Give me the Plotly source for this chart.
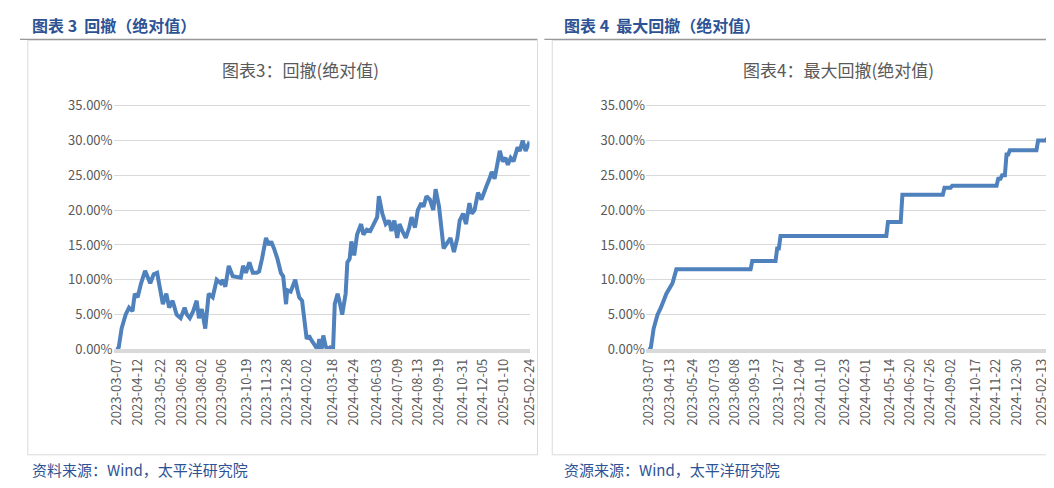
import plotly.graph_objects as go

# 回撤（绝对值）, 单位 %
dd_dates = ["2023-03-07", "2023-03-10", "2023-03-15", "2023-03-22", "2023-03-28", "2023-04-03", "2023-04-07",
            "2023-04-12", "2023-04-18", "2023-04-25", "2023-05-04", "2023-05-10", "2023-05-16", "2023-05-22",
            "2023-05-26", "2023-06-01", "2023-06-06", "2023-06-12", "2023-06-19", "2023-06-26", "2023-07-03",
            "2023-07-07", "2023-07-12", "2023-07-18", "2023-07-24", "2023-07-28", "2023-08-02", "2023-08-08",
            "2023-08-14", "2023-08-21", "2023-08-28", "2023-09-04", "2023-09-08", "2023-09-12", "2023-09-18",
            "2023-09-25", "2023-10-09", "2023-10-13", "2023-10-18", "2023-10-24", "2023-10-30", "2023-11-06",
            "2023-11-10", "2023-11-15", "2023-11-22", "2023-11-27", "2023-12-01", "2023-12-06", "2023-12-12",
            "2023-12-18", "2023-12-22", "2023-12-27", "2023-12-29", "2024-01-04", "2024-01-09", "2024-01-12",
            "2024-01-16", "2024-01-19", "2024-01-24", "2024-01-29", "2024-02-01", "2024-02-05", "2024-02-08",
            "2024-02-20", "2024-02-23", "2024-02-27", "2024-03-01", "2024-03-05", "2024-03-08", "2024-03-13",
            "2024-03-18", "2024-03-21", "2024-03-26", "2024-03-29", "2024-04-03", "2024-04-09", "2024-04-12",
            "2024-04-16", "2024-04-19", "2024-04-24", "2024-04-29", "2024-05-06", "2024-05-10", "2024-05-16",
            "2024-05-22", "2024-05-28", "2024-06-03", "2024-06-06", "2024-06-12", "2024-06-18", "2024-06-24",
            "2024-06-28", "2024-07-03", "2024-07-08", "2024-07-12", "2024-07-17", "2024-07-23", "2024-07-29",
            "2024-08-02", "2024-08-08", "2024-08-13", "2024-08-19", "2024-08-23", "2024-08-28", "2024-09-03",
            "2024-09-09", "2024-09-13", "2024-09-19", "2024-09-24", "2024-09-27", "2024-10-09", "2024-10-15",
            "2024-10-21", "2024-10-25", "2024-10-31", "2024-11-05", "2024-11-11", "2024-11-15", "2024-11-20",
            "2024-11-26", "2024-12-02", "2024-12-06", "2024-12-11", "2024-12-16", "2024-12-20", "2024-12-25",
            "2024-12-30", "2025-01-03", "2025-01-08", "2025-01-13", "2025-01-17", "2025-01-22", "2025-01-27",
            "2025-02-03", "2025-02-07", "2025-02-12", "2025-02-17", "2025-02-21", "2025-02-24"]
dd_values = [0, 0.3, 3, 5, 6, 5.5, 8,
             7.5, 9.5, 11.3, 9.5, 10.8, 11, 8,
             6.5, 8, 6, 7, 5, 4.5, 6,
             5, 4.5, 5.5, 7, 4.5, 5.8, 3,
             8, 7.5, 10, 9.5, 10, 9, 12,
             10.5, 10.3, 12, 11, 12.5, 11, 11,
             11.2, 13, 16, 15, 15.5, 14.5, 13,
             11, 10.5, 6.5, 8.5, 8.3, 9.5, 10,
             8.5, 7.5, 7, 3.5, 1.5, 2, 1.5,
             0, 1.5, 0, 2, 0.5, 0, 0.3,
             0, 6.5, 8, 7, 5, 8, 12.5,
             13, 15.5, 13.5, 16.5, 18, 16.5, 17.2,
             17, 18, 19, 22, 19.5, 18, 18.5,
             17, 18.5, 16, 18, 17, 16, 17.5,
             19, 17.5, 20, 21, 20.5, 22, 21.5,
             20, 23, 20.5, 17, 14.5, 16, 14,
             16, 18.5, 19.5, 18, 21, 19.5, 20,
             22.5, 21.5, 22.5, 23.5, 24.5, 25.5, 24.5,
             27, 28.5, 27, 27.5, 26.5, 27.5, 27,
             29, 28.5, 30, 28.5, 29.5, 29.8]

# 最大回撤（绝对值）, 单位 %
mdd_dates = ["2023-03-07", "2023-03-10", "2023-03-15", "2023-03-22", "2023-03-28", "2023-04-07", "2023-04-18",
             "2023-04-25", "2023-09-06", "2023-09-09", "2023-10-21", "2023-10-24", "2023-10-27", "2023-10-30",
             "2024-05-08", "2024-05-11", "2024-06-03", "2024-06-06", "2024-08-18", "2024-08-21", "2024-09-01",
             "2024-09-04", "2024-11-23", "2024-11-26", "2024-11-30", "2024-12-03", "2024-12-08", "2024-12-11",
             "2024-12-14", "2024-12-17", "2025-02-03", "2025-02-06", "2025-02-19", "2025-02-22", "2025-02-24"]
mdd_values = [0, 0.3, 3, 5, 6, 8, 9.5,
              11.5, 11.5, 12.7, 12.7, 14.5, 14.5, 16.3,
              16.3, 18.3, 18.3, 22.2, 22.2, 23.2, 23.2,
              23.5, 23.5, 24.5, 24.5, 25, 25, 28,
              28, 28.6, 28.6, 30, 30, 30.4, 30.4]

left_ticks = ["2023-03-07", "2023-04-12", "2023-05-22", "2023-06-28", "2023-08-02", "2023-09-06", "2023-10-19",
              "2023-11-23", "2023-12-28", "2024-02-02", "2024-03-18", "2024-04-24", "2024-06-03", "2024-07-09",
              "2024-08-13", "2024-09-19", "2024-10-31", "2024-12-05", "2025-01-10", "2025-02-24"]
right_ticks = ["2023-03-07", "2023-04-13", "2023-05-24", "2023-07-03", "2023-08-08", "2023-09-13", "2023-10-27",
               "2023-12-04", "2024-01-10", "2024-02-23", "2024-04-01", "2024-05-14", "2024-06-20", "2024-07-26",
               "2024-09-02", "2024-10-17", "2024-11-22", "2024-12-30", "2025-02-13"]
y_ticks = [0, 5, 10, 15, 20, 25, 30, 35]

W, H = 1054, 488
blue = "#4f81bd"
font = "Noto Sans CJK SC"

def px(x):
    return x / W

def py(y):
    return 1 - y / H

fig = go.Figure()
fig.add_trace(go.Scatter(x=dd_dates, y=[v / 100 for v in dd_values], mode="lines",
                         line=dict(color=blue, width=4), xaxis="x", yaxis="y"))
fig.add_trace(go.Scatter(x=mdd_dates, y=[v / 100 for v in mdd_values], mode="lines",
                         line=dict(color=blue, width=4), xaxis="x2", yaxis="y2"))

ydom = [py(347), py(90)]
yrange = [0, 0.35 * (347 - 90) / (347 - 97)]
common_y = dict(range=yrange, tickvals=[v / 100 for v in y_ticks], tickformat=".2%",
                showgrid=True, gridcolor="#d9d9d9", gridwidth=1, zeroline=False,
                tickfont=dict(size=13, color="#595959", family=font), ticks="", fixedrange=True)
common_x = dict(type="date", showgrid=False, tickangle=-90, showline=True, linecolor="#d9d9d9",
                linewidth=4, ticks="", tickfont=dict(size=13, color="#595959", family=font),
                range=["2023-03-01", "2025-02-24"])

fig.update_layout(
    width=W, height=H, showlegend=False, paper_bgcolor="white", plot_bgcolor="white",
    margin=dict(l=0, r=0, t=0, b=0),
    xaxis=dict(domain=[px(100), px(522)], anchor="y", tickvals=left_ticks, ticktext=left_ticks, **common_x),
    yaxis=dict(domain=ydom, anchor="x", **common_y),
    xaxis2=dict(domain=[px(640), px(1048)], anchor="y2", tickvals=right_ticks, ticktext=right_ticks, **common_x),
    yaxis2=dict(domain=ydom, anchor="x2", **common_y),
)

# panel frames and header rules
for x0, x1 in [(13, 530), (545, 1050)]:
    fig.add_shape(type="rect", xref="paper", yref="paper", x0=px(x0), x1=px(x1), y0=py(455), y1=py(30),
                  line=dict(color="#d9d9d9", width=1))
    fig.add_shape(type="line", xref="paper", yref="paper", x0=px(x0 - 8), x1=px(x1), y0=py(29), y1=py(29),
                  line=dict(color="#7f7f7f", width=1))

texts = [
    (15, 14, "<b>图表 3  回撤（绝对值）</b>", 16, "#2e5395", "left"),
    (555, 14, "<b>图表 4  最大回撤（绝对值）</b>", 16, "#2e5395", "left"),
    (290, 60, "图表3：回撤(绝对值)", 17, "#595959", "center"),
    (835, 60, "图表4：最大回撤(绝对值)", 17, "#595959", "center"),
    (15, 470, "资料来源：Wind，太平洋研究院", 15, "#2e5395", "left"),
    (555, 470, "资源来源：Wind，太平洋研究院", 15, "#2e5395", "left"),
]
for x, y, t, s, c, a in texts:
    fig.add_annotation(x=px(x), y=py(y), xref="paper", yref="paper", text=t, showarrow=False,
                       xanchor=a, yanchor="middle",
                       font=dict(size=s, color=c, family=font))

fig.write_html("out.html")
